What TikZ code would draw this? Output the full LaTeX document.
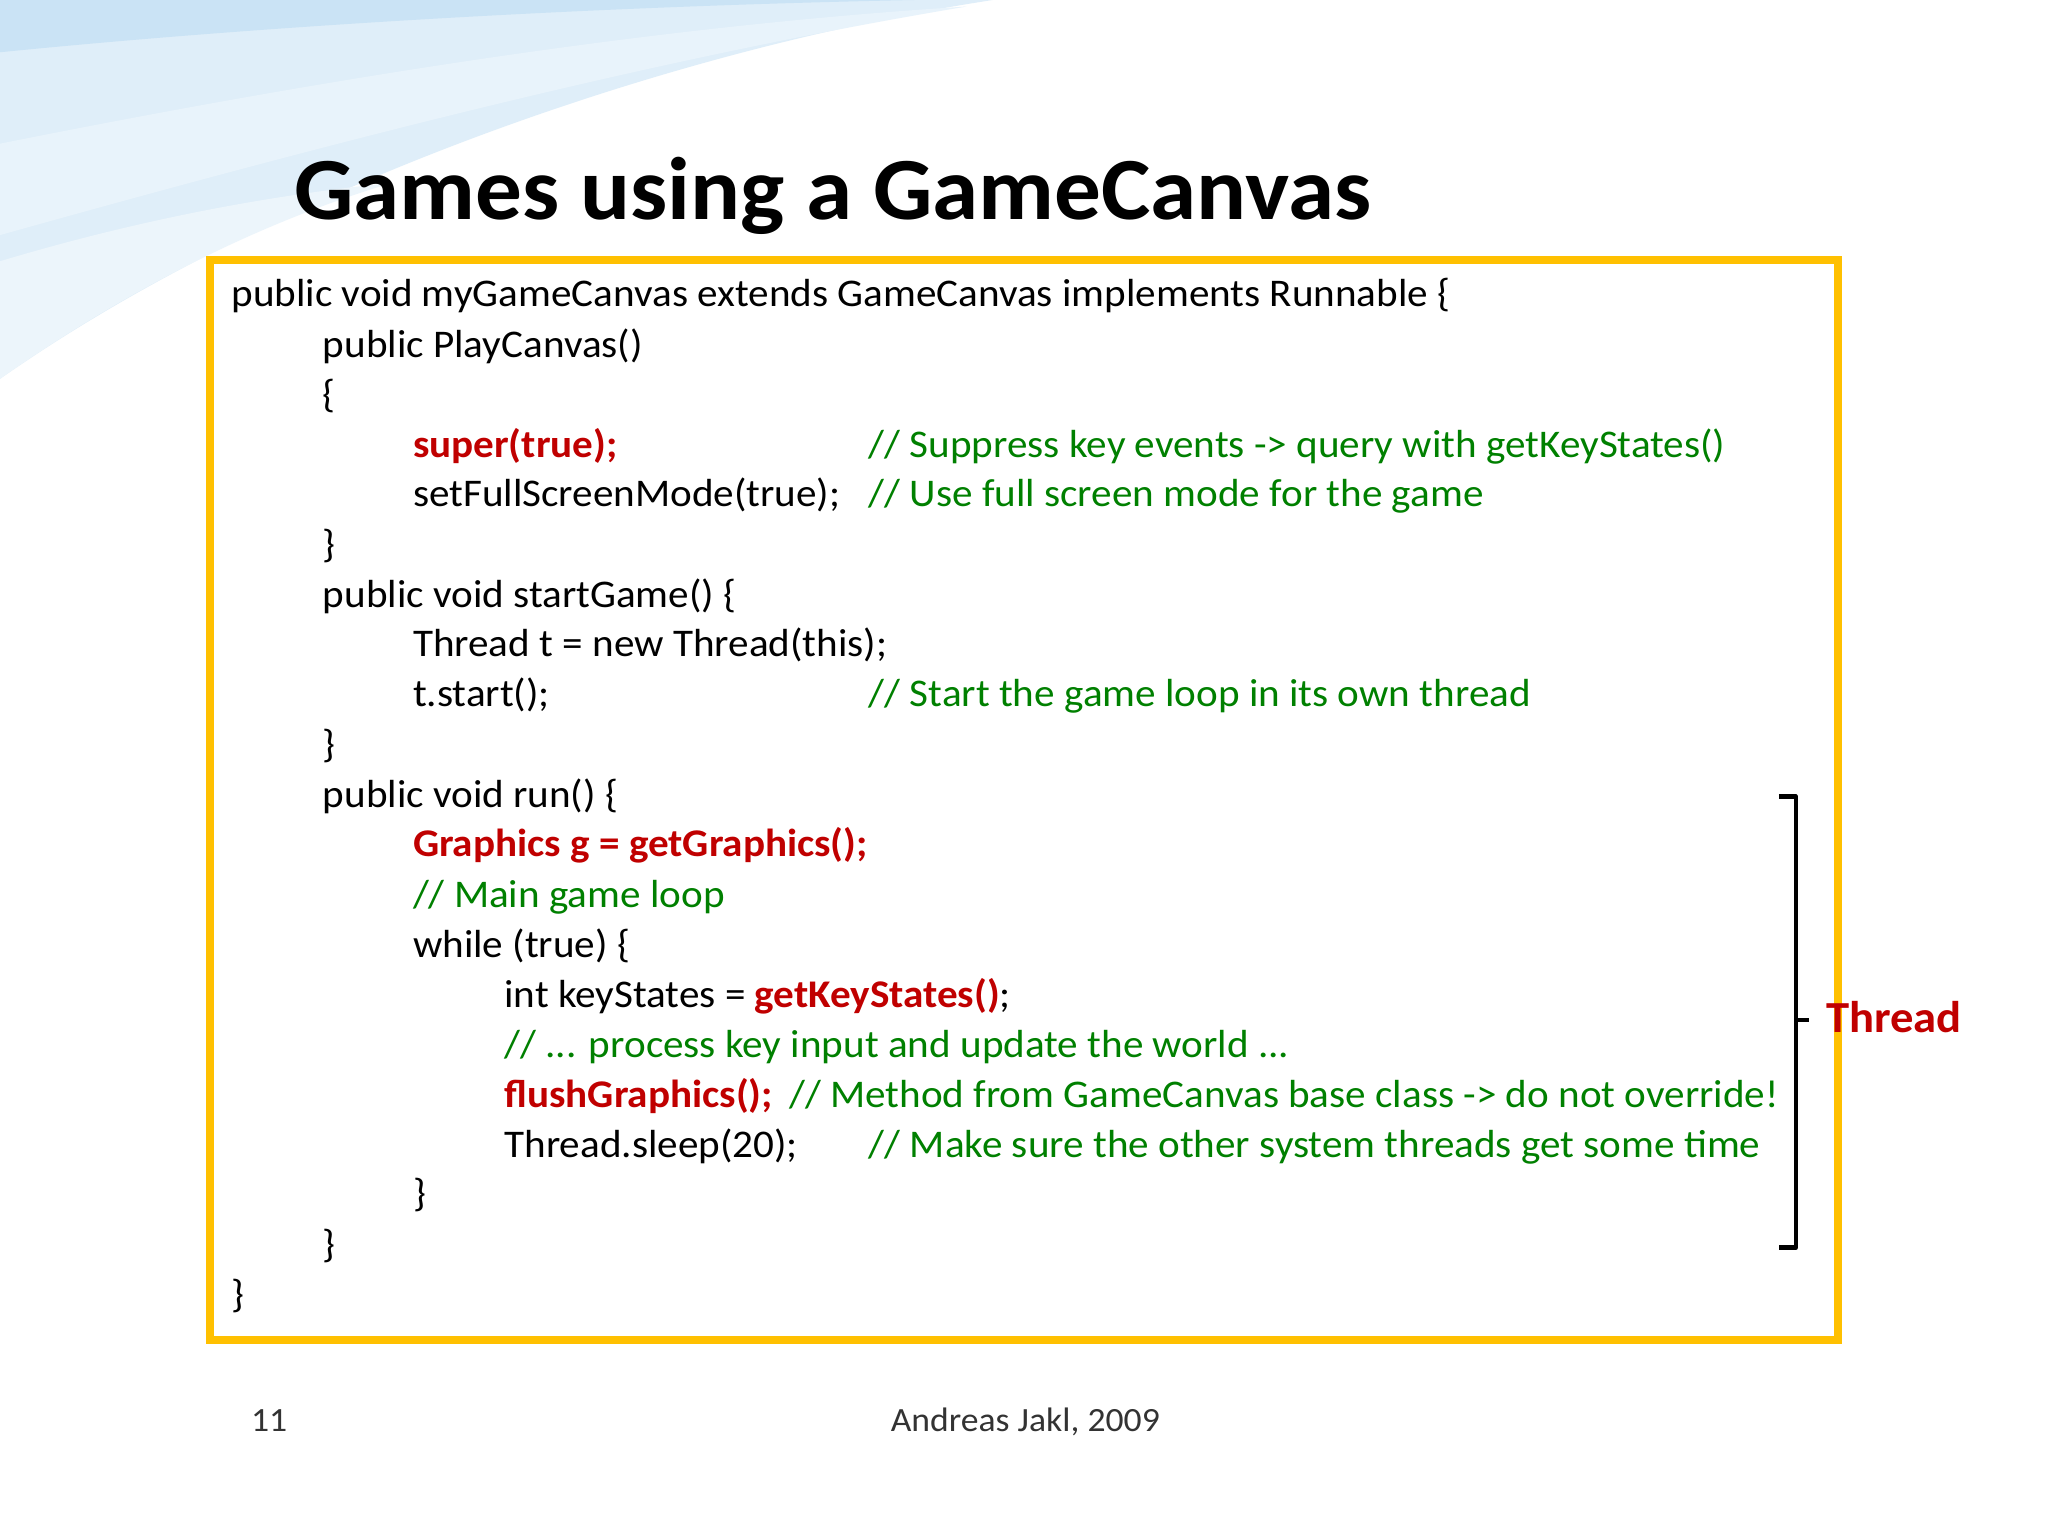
\documentclass[tikz,border=0pt]{standalone}
\usepackage{fontspec}
\setmainfont{Carlito}[FakeStretch=1.05]
\definecolor{kred}{RGB}{192,0,0}
\definecolor{kgreen}{RGB}{0,128,0}
\definecolor{kyel}{RGB}{255,192,0}
\definecolor{sky}{RGB}{150,200,235}
\begin{document}
\begin{tikzpicture}[x=1pt,y=-1pt,
  code/.style={anchor=base west,inner sep=0pt,font=\fontsize{30}{32}\selectfont},
  comment/.style={code,text=kgreen},
  kw/.style={code,text=kred,font=\fontsize{30}{32}\selectfont\bfseries}]
\useasboundingbox (0,0) rectangle (1568,1176);
\fill[white] (0,0) rectangle (1568,1176);
% background swooshes
\begin{scope}
\clip (0,0) rectangle (1568,1176);
\fill[sky!30] (0,0) -- (760,0) .. controls (500,40) and (200,150) .. (0,290) -- cycle;
\fill[sky!50] (0,40) .. controls (200,20) and (450,5) .. (700,0) -- (0,0) -- cycle;
\fill[sky!22] (0,110) .. controls (250,60) and (500,20) .. (740,5) .. controls (500,45) and (250,110) .. (0,180) -- cycle;
\fill[sky!18] (0,200) .. controls (100,170) and (200,150) .. (300,140) .. controls (200,170) and (100,220) .. (0,290) -- cycle;
\end{scope}
\node[anchor=base west,inner sep=0pt,font=\fontsize{68}{72}\selectfont\bfseries] (title) at (225,168) {Games using a GameCanvas};
\draw[kyel,line width=6] (161,199) rectangle (1407,1026);
\node[code] (l1) at (177,235) {public void myGameCanvas extends GameCanvas implements Runnable \{};
\node[code] (l2) at (247,274) {public PlayCanvas()};
\node[code] (l3) at (247,312) {\{};
\node[kw] (l4) at (316,350) {super(true);};
\node[comment] (c4) at (665,350) {// Suppress key events -> query with getKeyStates()};
\node[code] (l5) at (316,388) {setFullScreenMode(true);};
\node[comment] (c5) at (665,388) {// Use full screen mode for the game};
\node[code] (l6) at (247,427) {\}};
\node[code] (l7) at (247,465) {public void startGame() \{};
\node[code] (l8) at (316,503) {Thread t = new Thread(this);};
\node[code] (l9) at (316,541) {t.start();};
\node[comment] (c9) at (665,541) {// Start the game loop in its own thread};
\node[code] (l10) at (247,580) {\}};
\node[code] (l11) at (247,618) {public void run() \{};
\node[kw] (l12) at (316,656) {Graphics g = getGraphics();};
\node[comment] (l13) at (316,695) {// Main game loop};
\node[code] (l14) at (316,733) {while (true) \{};
\node[code] (l15) at (386,771) {int keyStates = \textcolor{kred}{\bfseries getKeyStates()};};
\node[comment] (l16) at (386,810) {// ... process key input and update the world ...};
\node[kw] (l17) at (386,848) {flushGraphics();};
\node[comment] (c17) at (604,848) {// Method from GameCanvas base class -> do not override!};
\node[code] (l18) at (386,886) {Thread.sleep(20);};
\node[comment] (c18) at (665,886) {// Make sure the other system threads get some time};
\node[code] (l19) at (316,924) {\}};
\node[code] (l20) at (247,963) {\}};
\node[code] (l21) at (177,1001) {\}};
% bracket
\coordinate (bt) at (1362,610);
\coordinate (bb) at (1362,955);
\coordinate (bm) at (1385,781);
\draw[line width=3.5,line join=round] (bt) -- (1375,610) -- (1375,955) -- (bb);
\draw[line width=3.5] (1375,781) -- (bm);
\node[anchor=west,inner sep=0pt,text=kred,font=\fontsize{34}{36}\selectfont\bfseries] (thr) at (1398,779) {Thread};
\node[anchor=base west,inner sep=0pt,font=\fontsize{26}{28}\selectfont,text=black!80] (pg) at (192,1096) {11};
\node[anchor=base,inner sep=0pt,font=\fontsize{26}{28}\selectfont,text=black!80] (au) at (785,1096) {Andreas Jakl, 2009};
\end{tikzpicture}
\end{document}
